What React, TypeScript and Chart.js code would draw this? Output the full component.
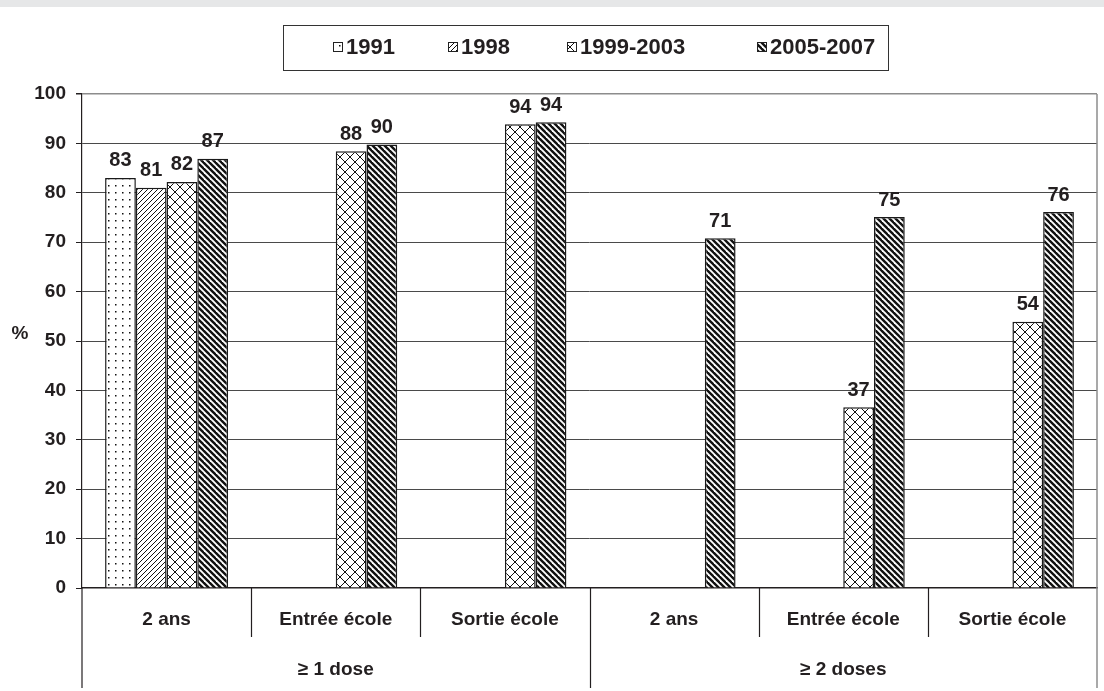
import React, { useEffect, useRef } from "react";
import { Chart, registerables } from "chart.js";

Chart.register(...registerables);

// ---- data ----
const categories = ["2 ans", "Entrée école", "Sortie école", "2 ans", "Entrée école", "Sortie école"];
const groupLabels = ["≥ 1 dose", "≥ 2 doses"];
const groupSizes = [3, 3];
const seriesLabels = ["1991", "1998", "1999-2003", "2005-2007"];
const values1991 = [83, null, null, null, null, null];
const values1998 = [81, null, null, null, null, null];
const values1999_2003 = [82.2, 88.4, 93.9, null, 36.6, 53.9];
const values2005_2007 = [86.9, 89.8, 94.3, 70.8, 75.1, 76.1];
const yMin = 0;
const yMax = 100;
const yStep = 10;
const yTitle = "%";

const FONT = "'Liberation Sans', Arial, sans-serif";
const TEXT = "#231f20";

type Kind = "dots" | "fwd" | "cross" | "back";
const patternKinds: Kind[] = ["dots", "fwd", "cross", "back"];
const legendBoxX = [333, 448, 567, 757];

function makePattern(kind: Kind): CanvasPattern | string {
  const c = document.createElement("canvas");
  const s = kind === "dots" ? 7 : kind === "fwd" ? 5 : kind === "cross" ? 10 : 6;
  c.width = s;
  c.height = s;
  const g = c.getContext("2d");
  if (!g) return "#fff";
  g.fillStyle = "#fff";
  g.fillRect(0, 0, s, s);
  g.strokeStyle = "#111";
  g.fillStyle = "#111";
  const ln = (x1: number, y1: number, x2: number, y2: number) => {
    g.beginPath();
    g.moveTo(x1, y1);
    g.lineTo(x2, y2);
    g.stroke();
  };
  if (kind === "dots") {
    g.fillRect(3, 3, 1.5, 1.5);
  } else if (kind === "fwd") {
    g.lineWidth = 1;
    ln(0, s, s, 0);
    ln(-1, 1, 1, -1);
    ln(s - 1, s + 1, s + 1, s - 1);
  } else if (kind === "cross") {
    g.lineWidth = 1;
    ln(0, s, s, 0);
    ln(-1, 1, 1, -1);
    ln(s - 1, s + 1, s + 1, s - 1);
    ln(0, 0, s, s);
    ln(-1, s - 1, 1, s + 1);
    ln(s - 1, -1, s + 1, 1);
  } else {
    g.lineWidth = 2.4;
    ln(0, 0, s, s);
    ln(-2, s - 2, 2, s + 2);
    ln(s - 2, -2, s + 2, 2);
  }
  const ctx = document.createElement("canvas").getContext("2d");
  return ctx?.createPattern(c, "repeat") || "#fff";
}

const dataLabelsPlugin = {
  id: "dataLabels",
  afterDatasetsDraw(chart: any) {
    const { ctx } = chart;
    ctx.save();
    ctx.font = `bold 20px ${FONT}`;
    ctx.fillStyle = TEXT;
    ctx.textAlign = "center";
    ctx.textBaseline = "bottom";
    chart.data.datasets.forEach((ds: any, di: number) => {
      const meta = chart.getDatasetMeta(di);
      meta.data.forEach((el: any, i: number) => {
        const v = ds.data[i];
        if (v === null || v === undefined) return;
        ctx.fillText(String(Math.round(v)), el.x, el.y - 7);
      });
    });
    ctx.restore();
  },
};

const decorPlugin = {
  id: "decor",
  afterDraw(chart: any) {
    const { ctx, chartArea, scales } = chart;
    const { left, right, top, bottom } = chartArea;
    const x = scales.x;
    const n = categories.length;
    const boundary = (i: number) => {
      if (i <= 0) return left;
      if (i >= n) return right;
      return (x.getPixelForValue(i - 1) + x.getPixelForValue(i)) / 2;
    };
    const line = (x1: number, y1: number, x2: number, y2: number) => {
      ctx.beginPath();
      ctx.moveTo(x1, y1);
      ctx.lineTo(x2, y2);
      ctx.stroke();
    };
    ctx.save();
    const groupEnds: number[] = [];
    let acc = 0;
    groupSizes.forEach((g) => {
      acc += g;
      groupEnds.push(acc);
    });
    ctx.strokeStyle = "#231f20";
    ctx.lineWidth = 1.2;
    line(left, bottom, left, bottom + 100);
    for (let i = 1; i < n; i++) {
      const isGroup = groupEnds.includes(i);
      const bx = Math.round(boundary(i)) + 0.5;
      line(bx, bottom, bx, isGroup ? bottom + 100 : bottom + 49);
    }
    ctx.strokeStyle = "#8c8c8c";
    ctx.lineWidth = 1.5;
    line(right, top, right, bottom + 100);

    ctx.font = `bold 19px ${FONT}`;
    ctx.fillStyle = TEXT;
    ctx.textAlign = "center";
    ctx.textBaseline = "middle";
    let start = 0;
    groupSizes.forEach((g, gi) => {
      const cx = (boundary(start) + boundary(start + g)) / 2;
      ctx.fillText(groupLabels[gi], cx, bottom + 82);
      start += g;
    });

    ctx.fillText(yTitle, 20, (top + bottom) / 2 - 7);

    // legend
    ctx.strokeStyle = "#333";
    ctx.lineWidth = 1;
    ctx.strokeRect(283.5, 18.5, 605, 45);
    ctx.font = `bold 22px ${FONT}`;
    ctx.textAlign = "left";
    ctx.textBaseline = "middle";
    const ly = 41;
    chart.data.datasets.forEach((ds: any, i: number) => {
      const lx = legendBoxX[i];
      ctx.fillStyle = ds.backgroundColor;
      ctx.fillRect(lx, ly - 6, 10, 10);
      ctx.strokeStyle = "#222";
      ctx.lineWidth = 1;
      ctx.strokeRect(lx + 0.5, ly - 5.5, 9, 9);
      ctx.fillStyle = TEXT;
      ctx.fillText(ds.label, lx + 13, ly);
    });
    ctx.restore();
  },
};

export default function App() {
  const ref = useRef<HTMLCanvasElement | null>(null);

  useEffect(() => {
    document.body.style.margin = "0";
    const canvas = ref.current;
    if (!canvas) return;
    const seriesValues = [values1991, values1998, values1999_2003, values2005_2007];
    const chart = new Chart(canvas, {
      type: "bar",
      data: {
        labels: categories,
        datasets: seriesLabels.map((label, i) => ({
          label,
          data: seriesValues[i],
          backgroundColor: makePattern(patternKinds[i]) as any,
          borderColor: "#1a1a1a",
          borderWidth: 1.5,
          barPercentage: 1,
          categoryPercentage: 0.727,
        })),
      },
      options: {
        animation: false,
        responsive: true,
        maintainAspectRatio: false,
        layout: { padding: { top: 87, right: 7, bottom: 3, left: 0 } },
        plugins: {
          legend: { display: false },
          tooltip: { enabled: false },
        },
        scales: {
          x: {
            grid: { display: false },
            border: { display: true, color: "#231f20", width: 1.5 },
            ticks: {
              color: TEXT,
              font: { family: FONT, size: 19, weight: "bold" },
              padding: 12,
              maxRotation: 0,
              autoSkip: false,
            },
            afterFit: (scale: any) => {
              scale.height = 100;
            },
          },
          y: {
            min: yMin,
            max: yMax,
            ticks: {
              stepSize: yStep,
              color: TEXT,
              font: { family: FONT, size: 19, weight: "bold" },
              padding: 10,
            },
            grid: {
              color: (c: any) =>
                c.tick && c.tick.value === yMax ? "#8c8c8c" : c.tick && c.tick.value === yMin ? "rgba(0,0,0,0)" : "#4a4a4a",
              lineWidth: (c: any) => (c.tick && c.tick.value === yMax ? 1.5 : 1),
              tickColor: "#231f20",
              tickLength: 6,
              drawTicks: true,
            },
            border: { display: true, color: "#231f20", width: 1.2 },
            afterFit: (scale: any) => {
              scale.width = 82;
            },
          },
        },
      },
      plugins: [dataLabelsPlugin, decorPlugin],
    });
    return () => chart.destroy();
  }, []);

  return (
    <div style={{ width: 1104, height: 691, background: "#fff" }}>
      <div style={{ height: 7, background: "#e6e7e8" }} />
      <div style={{ position: "relative", width: 1104, height: 684 }}>
        <canvas ref={ref} />
      </div>
    </div>
  );
}
